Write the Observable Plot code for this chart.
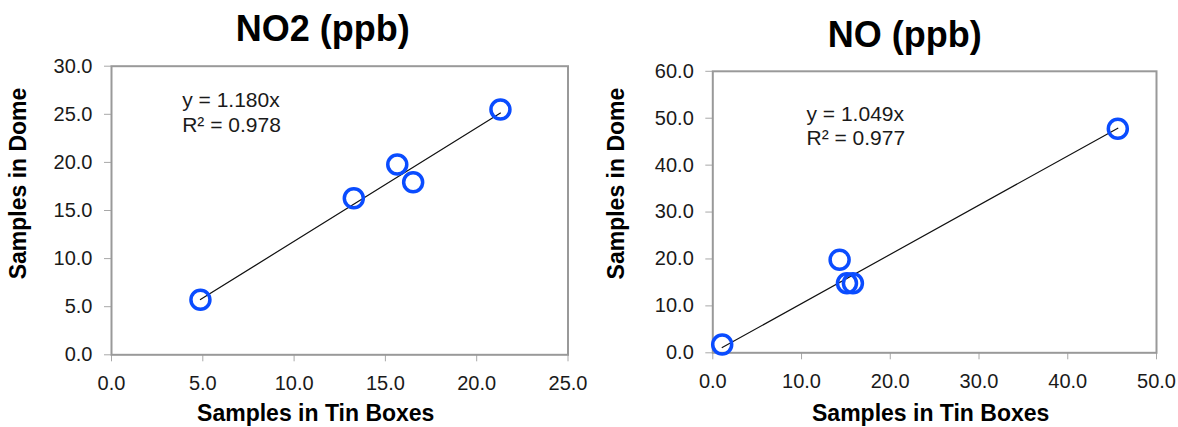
<!DOCTYPE html>
<html><head><meta charset="utf-8">
<script src="https://cdn.jsdelivr.net/npm/d3@7"></script>
<script src="https://cdn.jsdelivr.net/npm/@observablehq/plot@0.6"></script>
<style>
body{margin:0;background:#fff;}
#wrap{position:relative;width:1178px;height:427px;overflow:hidden;background:#fff;}
#left{position:absolute;left:0;top:0;}
#right{position:absolute;left:590px;top:0;}
</style></head><body><div id="wrap"><div id="left"></div><div id="right"></div></div>
<script>
// NO2 panel
const no2Title = "NO2 (ppb)";
const no2Tin = [4.87, 13.27, 15.65, 16.52, 21.30];
const no2Dome = [5.72, 16.28, 19.78, 17.94, 25.50];
const no2Slope = 1.180;
const no2R2 = "0.978";
const no2XTicks = [0, 5, 10, 15, 20, 25];
const no2YTicks = [0, 5, 10, 15, 20, 25, 30];

// NO panel
const noTitle = "NO (ppb)";
const noTin = [1.06, 14.29, 15.12, 15.79, 45.64];
const noDome = [1.77, 19.83, 14.84, 14.84, 47.76];
const noSlope = 1.049;
const noR2 = "0.977";
const noXTicks = [0, 10, 20, 30, 40, 50];
const noYTicks = [0, 10, 20, 30, 40, 50, 60];

const xLabel = "Samples in Tin Boxes";
const yLabel = "Samples in Dome";

const FONT = "'Liberation Sans', Arial, Helvetica, sans-serif";
const fmt = d3.format(".1f");

function chart(o) {
  const pts = o.tin.map((x, i) => ({x, y: o.dome[i]}));
  const xmin = d3.min(o.tin), xmax = d3.max(o.tin);
  const trend = [{x: xmin, y: o.slope * xmin}, {x: xmax, y: o.slope * xmax}];
  const eq = `y = ${o.slope.toFixed(3)}x\nR² = ${o.r2}`;
  return Plot.plot({
    width: o.width, height: 427,
    marginLeft: o.ml, marginRight: o.mr, marginTop: o.mt, marginBottom: o.mb,
    style: {fontFamily: FONT, background: "white", color: "#1a1a1a"},
    x: {domain: [0, d3.max(o.xTicks)]},
    y: {domain: [0, d3.max(o.yTicks)]},
    marks: [
      Plot.axisX({ticks: o.xTicks, tickFormat: fmt, tickSize: 7, tickPadding: 14, stroke: "#a8a8a8", fill: "#1a1a1a", fontSize: 20, label: null}),
      Plot.axisY({ticks: o.yTicks, tickFormat: fmt, tickSize: 7, tickPadding: 12, stroke: "#a8a8a8", fill: "#1a1a1a", fontSize: 20, label: null}),
      Plot.frame({stroke: "#999", strokeWidth: 2}),
      Plot.line(trend, {x: "x", y: "y", stroke: "#111", strokeWidth: 1.2}),
      Plot.dot(pts, {x: "x", y: "y", r: 9.5, stroke: "#0a4cff", strokeWidth: 3.5, fill: "none"}),
      Plot.text([eq], {frameAnchor: "top-left", textAnchor: "start", lineAnchor: "top", lineHeight: 1.18, dx: o.eqDx, dy: o.eqDy, fontSize: 21, fill: "#1a1a1a"}),
      Plot.text([o.title], {frameAnchor: "top", textAnchor: "middle", lineAnchor: "bottom", dx: o.tDx, dy: o.tDy, fontSize: 36, fontWeight: "bold", fill: "#000"}),
      Plot.text([xLabel], {frameAnchor: "bottom", textAnchor: "middle", lineAnchor: "bottom", dx: o.xlDx, dy: o.xlDy, fontSize: 23, fontWeight: "bold", fill: "#000"}),
      Plot.text([yLabel], {frameAnchor: "left", textAnchor: "middle", lineAnchor: "bottom", rotate: -90, dx: o.ylDx, dy: o.ylDy, fontSize: 23, fontWeight: "bold", fill: "#000"})
    ]
  });
}

document.getElementById("left").append(chart({
  width: 590, ml: 111, mr: 22.5, mt: 65.7, mb: 72.7,
  title: no2Title, tin: no2Tin, dome: no2Dome, slope: no2Slope, r2: no2R2,
  xTicks: no2XTicks, yTicks: no2YTicks,
  eqDx: 70.7, eqDy: 23.4, tDx: -17, tDy: -25, xlDx: -24, xlDy: 66.5, ylDx: -86, ylDy: -27
}));
document.getElementById("right").append(chart({
  width: 588, ml: 122.3, mr: 22, mt: 70.8, mb: 74.7,
  title: noTitle, tin: noTin, dome: noDome, slope: noSlope, r2: noR2,
  xTicks: noXTicks, yTicks: noYTicks,
  eqDx: 93.7, eqDy: 31.7, tDx: -30, tDy: -24, xlDx: -4, xlDy: 68.5, ylDx: -89, ylDy: -28.5
}));
</script>
</body></html>
